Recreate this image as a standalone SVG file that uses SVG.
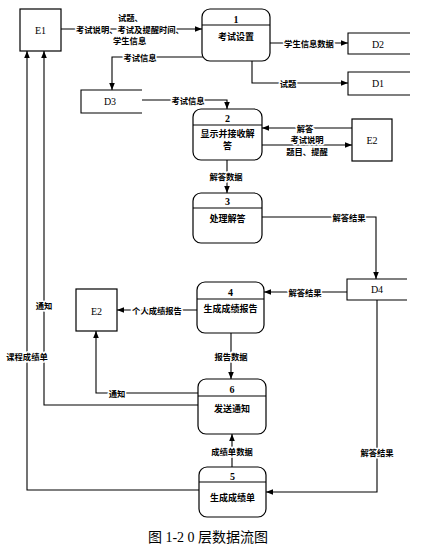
<svg xmlns="http://www.w3.org/2000/svg" width="433" height="550" viewBox="0 0 433 550">
<style>
.box{fill:#fff;stroke:#000;stroke-width:1.2}
.ln{fill:none;stroke:#000;stroke-width:1.1}
.st{fill:none;stroke:#000;stroke-width:1.1}
.ent{font-family:"Liberation Serif",serif;font-size:10px;text-anchor:middle;dominant-baseline:central}
.num{font-family:"Liberation Serif",serif;font-size:10px;font-weight:bold;text-anchor:middle;dominant-baseline:central}
.nt{font-family:"Noto Sans CJK SC",sans-serif;font-size:9px;font-weight:bold;text-anchor:middle;dominant-baseline:central}
.lb{font-family:"Noto Sans CJK SC",sans-serif;font-size:8.3px;font-weight:bold;text-anchor:middle;dominant-baseline:central;paint-order:stroke;stroke:#fff;stroke-width:3px;stroke-linejoin:round}
.lbs{text-anchor:start}
.cap{font-family:"Liberation Serif","Noto Sans CJK SC",serif;font-size:14px;text-anchor:middle;dominant-baseline:central}
</style>
<defs>
<marker id="ar" viewBox="0 0 10 10" refX="10" refY="5" markerWidth="7" markerHeight="7" orient="auto" markerUnits="userSpaceOnUse">
<path d="M0,1 L10,5 L0,9 z" fill="#000"/>
</marker>
</defs>

<g id="connectors">
<path class="ln" d="M61,29 H202" marker-end="url(#ar)"/>
<path class="ln" d="M270,43 H348" marker-end="url(#ar)"/>
<path class="ln" d="M252,61 V83 H348" marker-end="url(#ar)"/>
<path class="ln" d="M203,57 H112 V90" marker-end="url(#ar)"/>
<path class="ln" d="M142,100 H227 V109" marker-end="url(#ar)"/>
<path class="ln" d="M352,128 H262" marker-end="url(#ar)"/>
<path class="ln" d="M262,145 H352" marker-end="url(#ar)"/>
<path class="ln" d="M227,160 V193" marker-end="url(#ar)"/>
<path class="ln" d="M262,217 H376 V279" marker-end="url(#ar)"/>
<path class="ln" d="M347,292 H264" marker-end="url(#ar)"/>
<path class="ln" d="M197,310 H117" marker-end="url(#ar)"/>
<path class="ln" d="M231,333 V379" marker-end="url(#ar)"/>
<path class="ln" d="M198,393 H96 V331" marker-end="url(#ar)"/>
<path class="ln" d="M198,405 H44 V51" marker-end="url(#ar)"/>
<path class="ln" d="M199,490 H27 V51" marker-end="url(#ar)"/>
<path class="ln" d="M232,467 V434" marker-end="url(#ar)"/>
<path class="ln" d="M377,300 V492 H266" marker-end="url(#ar)"/>

<text class="lb lbs" x="118" y="17">试题、</text>
<text class="lb lbs" x="76" y="29">考试说明、考试及提醒时间、</text>
<text class="lb lbs" x="113" y="40">学生信息</text>
<text class="lb" x="309" y="43">学生信息数据</text>
<text class="lb" x="288" y="83">试题</text>
<text class="lb" x="140" y="57">考试信息</text>
<text class="lb" x="188" y="100">考试信息</text>
<text class="lb" x="305" y="128">解答</text>
<text class="lb" x="307" y="139">考试说明</text>
<text class="lb" x="307" y="151">题目、提醒</text>
<text class="lb" x="226" y="176">解答数据</text>
<text class="lb" x="349" y="217">解答结果</text>
<text class="lb" x="305" y="292">解答结果</text>
<text class="lb" x="157" y="310">个人成绩报告</text>
<text class="lb" x="231" y="356">报告数据</text>
<text class="lb" x="117" y="393">通知</text>
<text class="lb" x="44" y="305">通知</text>
<text class="lb" x="27" y="356">课程成绩单</text>
<text class="lb" x="232" y="451">成绩单数据</text>
<text class="lb" x="377" y="452">解答结果</text>
</g>

<g id="E1">
<rect class="box" x="20" y="9" width="41" height="42"/>
<text class="ent" x="40.5" y="30">E1</text>
</g>
<g id="E2a">
<rect class="box" x="352" y="119" width="40" height="42"/>
<text class="ent" x="372" y="140">E2</text>
</g>
<g id="E2b">
<rect class="box" x="76" y="289" width="41" height="42"/>
<text class="ent" x="96.5" y="311">E2</text>
</g>

<g id="D2">
<path class="st" d="M410,33 H348 V54 H410"/>
<text class="ent" x="378" y="44">D2</text>
</g>
<g id="D1">
<path class="st" d="M410,72 H348 V95 H410"/>
<text class="ent" x="378" y="83">D1</text>
</g>
<g id="D3">
<path class="st" d="M142,90 H81 V113 H142"/>
<text class="ent" x="110" y="101">D3</text>
</g>
<g id="D4">
<path class="st" d="M407,279 H347 V300 H407"/>
<text class="ent" x="377" y="289">D4</text>
</g>

<g id="P1">
<rect class="box" x="202" y="9" width="68" height="52" rx="8"/>
<line class="st" x1="202" y1="25" x2="270" y2="25"/>
<text class="num" x="236" y="19">1</text>
<text class="nt" x="236" y="36">考试设置</text>
</g>
<g id="P2">
<rect class="box" x="193" y="109" width="69" height="51" rx="8"/>
<line class="st" x1="193" y1="125" x2="262" y2="125"/>
<text class="num" x="227.5" y="118">2</text>
<text class="nt" x="227.5" y="133">显示并接收解</text>
<text class="nt" x="227.5" y="145">答</text>
</g>
<g id="P3">
<rect class="box" x="193" y="193" width="69" height="50" rx="8"/>
<line class="st" x1="193" y1="208" x2="262" y2="208"/>
<text class="num" x="227.5" y="201">3</text>
<text class="nt" x="227.5" y="218">处理解答</text>
</g>
<g id="P4">
<rect class="box" x="197" y="282" width="67" height="51" rx="8"/>
<line class="st" x1="197" y1="299" x2="264" y2="299"/>
<text class="num" x="230.5" y="292">4</text>
<text class="nt" x="230.5" y="308">生成成绩报告</text>
</g>
<g id="P6">
<rect class="box" x="198" y="379" width="68" height="55" rx="8"/>
<line class="st" x1="198" y1="396" x2="266" y2="396"/>
<text class="num" x="232" y="389">6</text>
<text class="nt" x="232" y="408">发送通知</text>
</g>
<g id="P5">
<rect class="box" x="199" y="467" width="67" height="50" rx="8"/>
<line class="st" x1="199" y1="482" x2="266" y2="482"/>
<text class="num" x="232.5" y="476">5</text>
<text class="nt" x="232.5" y="497">生成成绩单</text>
</g>

<text class="cap" x="208" y="537">图 1-2 0 层数据流图</text>
</svg>
